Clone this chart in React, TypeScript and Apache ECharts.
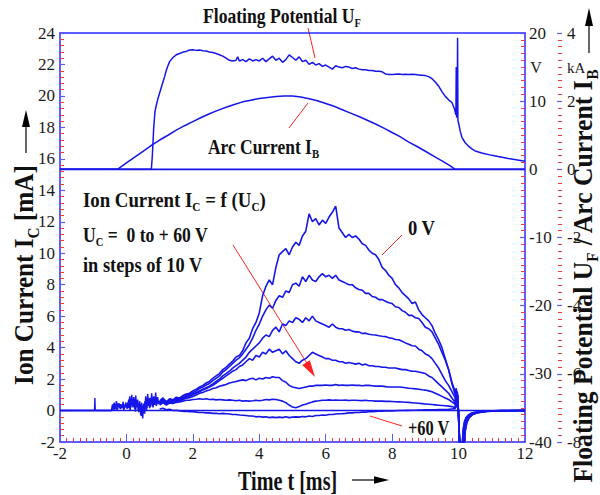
import React, { useEffect, useRef } from 'react';
import * as echarts from 'echarts';

// ---- Ion current I_C [mA], sampled every 0.1 ms from t = 1.0 to 9.9 ms ----
const T0 = 1.0;
const DT = 0.1;

const ion0V = [
  0.62, 0.8, 0.55, 0.75, 0.68, 0.85, 0.8, 0.95, 1.05, 1.1,
  1.25, 1.35, 1.5, 1.6, 1.75, 1.85, 2.05, 2.2, 2.35, 2.6,
  2.75, 2.95, 3.15, 3.4, 3.5, 3.8, 4.3, 4.6, 5.2, 5.6,
  6.2, 7.3, 7.9, 8.3, 8.0, 9.1, 9.9, 10.1, 10.3, 9.9,
  10.4, 10.7, 10.5, 11.1, 11.4, 12.5, 12.0, 12.2, 11.8, 12.1,
  11.9, 12.3, 12.6, 13.0, 11.6, 11.3, 11.0, 11.2, 11.0, 11.1,
  10.9, 10.6, 10.5, 10.2, 10.0, 9.9, 9.6, 9.1, 8.9, 8.6,
  8.4, 8.0, 7.8, 7.5, 7.3, 7.1, 6.8, 6.9, 6.4, 6.1,
  5.9, 5.7, 5.4, 4.9, 4.5, 4.0, 3.3, 2.6, 1.7, 1.0,
];
const ion10V = [
  0.55, 0.7, 0.5, 0.7, 0.62, 0.78, 0.75, 0.88, 0.98, 1.02,
  1.15, 1.25, 1.4, 1.5, 1.62, 1.72, 1.9, 2.05, 2.2, 2.45,
  2.6, 2.8, 3.0, 3.2, 3.35, 3.6, 3.9, 4.2, 4.6, 5.1,
  5.5, 6.0, 6.4, 6.7, 6.5, 7.0, 7.3, 7.2, 7.6, 7.5,
  8.0, 8.1, 7.9, 8.5, 8.2, 8.6, 8.3, 8.2, 8.5, 8.7,
  8.5, 8.6, 8.4, 8.6, 8.3, 8.2, 8.1, 8.0, 8.0, 7.8,
  7.7, 7.65, 7.45, 7.45, 7.25, 7.2, 7.05, 7.05, 6.95, 6.85,
  6.8, 6.6, 6.55, 6.35, 6.25, 6.05, 6.05, 5.9, 5.85, 5.6,
  5.3, 5.2, 5.0, 4.6, 4.2, 3.7, 3.2, 2.6, 1.8, 1.2,
];
const ion20V = [
  0.5, 0.65, 0.45, 0.62, 0.58, 0.7, 0.7, 0.8, 0.9, 0.95,
  1.05, 1.15, 1.25, 1.35, 1.45, 1.55, 1.7, 1.85, 2.0, 2.2,
  2.35, 2.5, 2.7, 2.85, 3.0, 3.2, 3.4, 3.7, 3.9, 4.1,
  4.3, 4.6, 4.8, 4.7, 5.1, 5.3, 5.0, 5.5, 5.4, 5.7,
  5.6, 5.9, 5.8, 5.6, 5.9, 5.7, 6.0, 5.7, 5.6, 5.5,
  5.4, 5.3, 5.5, 5.3, 5.2, 5.2, 5.1, 5.15, 5.05, 5.0,
  5.0, 4.9, 4.92, 4.85, 4.82, 4.8, 4.75, 4.72, 4.7, 4.62,
  4.6, 4.52, 4.5, 4.4, 4.3, 4.22, 4.12, 4.1, 3.9, 3.8,
  3.6, 3.5, 3.3, 3.0, 2.7, 2.3, 1.9, 1.6, 1.2, 0.8,
];
const ion30V = [
  0.45, 0.6, 0.42, 0.58, 0.55, 0.65, 0.65, 0.75, 0.85, 0.9,
  1.0, 1.1, 1.2, 1.3, 1.4, 1.5, 1.6, 1.75, 1.9, 2.05,
  2.2, 2.35, 2.5, 2.6, 2.8, 2.9, 3.1, 3.3, 3.2, 3.5,
  3.4, 3.7, 3.6, 3.9, 3.7, 3.8, 3.9, 3.6, 3.8, 3.5,
  3.3, 3.1, 3.0, 3.2, 3.3, 3.5, 3.7, 3.6, 3.5, 3.4,
  3.3, 3.3, 3.2, 3.2, 3.1, 3.1, 3.0, 3.05, 3.0, 2.95,
  3.0, 2.9, 2.95, 2.85, 2.85, 2.8, 2.8, 2.75, 2.75, 2.7,
  2.7, 2.7, 2.65, 2.6, 2.6, 2.55, 2.5, 2.5, 2.45, 2.4,
  2.35, 2.2, 2.1, 1.9, 1.7, 1.5, 1.3, 1.1, 0.8, 0.5,
];
const ion40V = [
  0.4, 0.55, 0.4, 0.52, 0.5, 0.6, 0.6, 0.7, 0.78, 0.82,
  0.9, 0.98, 1.1, 1.15, 1.25, 1.3, 1.4, 1.45, 1.55, 1.6,
  1.65, 1.75, 1.8, 1.85, 1.9, 1.95, 1.9, 2.0, 2.05, 1.95,
  2.05, 2.0, 2.1, 2.05, 2.15, 2.1, 2.1, 1.9, 1.8, 1.6,
  1.5, 1.45, 1.4, 1.45, 1.5, 1.55, 1.55, 1.6, 1.6, 1.6,
  1.62, 1.6, 1.6, 1.65, 1.6, 1.62, 1.6, 1.6, 1.62, 1.6,
  1.6, 1.58, 1.6, 1.6, 1.58, 1.55, 1.55, 1.55, 1.52, 1.5,
  1.5, 1.5, 1.5, 1.48, 1.45, 1.42, 1.4, 1.38, 1.35, 1.32,
  1.3, 1.25, 1.2, 1.1, 1.0, 0.9, 0.8, 0.7, 0.55, 0.4,
];
const ion50V = [
  0.35, 0.5, 0.35, 0.48, 0.45, 0.52, 0.55, 0.6, 0.65, 0.65,
  0.7, 0.72, 0.75, 0.72, 0.75, 0.7, 0.72, 0.68, 0.7, 0.68,
  0.65, 0.68, 0.65, 0.62, 0.65, 0.6, 0.62, 0.6, 0.62, 0.65,
  0.62, 0.65, 0.7, 0.68, 0.72, 0.7, 0.65, 0.6, 0.5, 0.35,
  0.22, 0.18, 0.25, 0.35, 0.4, 0.48, 0.55, 0.6, 0.62, 0.65,
  0.65, 0.68, 0.65, 0.66, 0.65, 0.65, 0.66, 0.64, 0.65, 0.65,
  0.64, 0.63, 0.65, 0.62, 0.62, 0.6, 0.6, 0.6, 0.58, 0.58,
  0.57, 0.56, 0.55, 0.54, 0.53, 0.52, 0.5, 0.48, 0.46, 0.44,
  0.42, 0.4, 0.38, 0.36, 0.34, 0.32, 0.3, 0.28, 0.25, 0.18,
];
const ion60V = [
  0.1, 0.15, 0.05, 0.08, 0.0, 0.02, -0.02, -0.05, -0.05, -0.08,
  -0.08, -0.1, -0.12, -0.12, -0.15, -0.15, -0.18, -0.18, -0.2, -0.18,
  -0.2, -0.22, -0.25, -0.25, -0.28, -0.3, -0.32, -0.35, -0.35, -0.4,
  -0.38, -0.42, -0.4, -0.45, -0.42, -0.45, -0.42, -0.45, -0.4, -0.45,
  -0.42, -0.4, -0.42, -0.38, -0.4, -0.35, -0.38, -0.32, -0.32, -0.28,
  -0.3, -0.25, -0.25, -0.22, -0.2, -0.2, -0.18, -0.15, -0.15, -0.12,
  -0.12, -0.1, -0.1, -0.08, -0.08, -0.06, -0.05, -0.04, -0.03, -0.02,
  -0.02, -0.01, 0.0, 0.0, 0.01, 0.01, 0.02, 0.02, 0.03, 0.03,
  0.04, 0.04, 0.05, 0.05, 0.06, 0.06, 0.07, 0.08, 0.1, 0.12,
];

// Discharge switch-off transient after t = 9.9 ms: [t, I_C]
const tailA = [
  [9.93, 1.4], [9.95, 0.3], [9.97, 1.0], [9.99, 0.1], [10.02, -1.5], [10.05, -2.6],
  [10.12, -2.6], [10.15, -1.6], [10.19, -1.0], [10.24, -0.6], [10.32, -0.35],
  [10.42, -0.2], [10.58, -0.1], [10.85, -0.04], [11.3, 0], [12, 0],
];
const tailB = [
  [9.94, 0.6], [9.96, 1.2], [9.98, 0.2], [10.0, -0.4], [10.03, -2.0], [10.06, -2.6],
  [10.16, -2.6], [10.2, -1.3], [10.25, -0.75], [10.32, -0.45], [10.42, -0.26],
  [10.55, -0.15], [10.8, -0.06], [11.2, -0.02], [12, 0],
];
const tailC = [
  [9.92, 0.8], [9.94, 0.2], [9.97, 0.6], [10.0, 0.0], [10.04, -2.6], [10.1, -2.6],
  [10.14, -1.2], [10.18, -0.7], [10.23, -0.45], [10.3, -0.28], [10.4, -0.16],
  [10.6, -0.07], [11.0, -0.02], [12, 0],
];

// Ignition noise before t = 1.0 ms: [t, I_C]
const ignitionA = [
  [-2, 0], [-0.96, 0], [-0.95, 0.8], [-0.94, 0.05], [-0.93, 0], [-0.45, 0], [-0.42, 0.4],
  [-0.4, 0.05], [-0.37, 0.5], [-0.34, 0.1], [-0.3, 0.6], [-0.27, 0.2], [-0.24, 0.45],
  [-0.2, 0.15], [-0.17, 0.4], [-0.13, 0.2], [-0.1, 0.55], [-0.07, 0.1], [-0.03, 0.35],
  [0.0, 0.2], [0.03, 0.5], [0.06, 0.15], [0.1, 0.9], [0.13, 0.2], [0.16, 1.0], [0.19, 0.3],
  [0.22, 0.85], [0.25, 0.1], [0.28, 0.95], [0.31, 0.25], [0.34, 0.7], [0.37, -0.1],
  [0.4, 0.6], [0.43, -0.3], [0.46, 0.5], [0.49, -0.5], [0.52, 0.45], [0.55, -0.2],
  [0.58, 0.9], [0.61, 0.15], [0.64, 1.05], [0.67, 0.3], [0.7, 0.8], [0.73, 0.25],
  [0.76, 1.1], [0.79, 0.4], [0.82, 0.9], [0.85, 0.35], [0.88, 1.15], [0.91, 0.45],
  [0.94, 0.85], [0.97, 0.4], [1.0, 0.6],
];
const ignitionB = [
  [-2, 0], [-0.45, 0], [-0.4, 0.35], [-0.36, 0.05], [-0.32, 0.3], [-0.28, 0.0],
  [-0.22, 0.45], [-0.18, 0.1], [-0.12, 0.3], [-0.08, 0.05], [-0.02, 0.5], [0.02, 0.1],
  [0.07, 0.7], [0.11, 0.0], [0.15, 0.6], [0.2, 0.2], [0.24, 0.75], [0.27, -0.05],
  [0.32, 0.55], [0.36, 0.0], [0.41, 0.4], [0.45, -0.35], [0.48, 0.3], [0.51, -0.15],
  [0.56, 0.6], [0.6, 0.0], [0.66, 0.7], [0.7, 0.15], [0.75, 0.6], [0.8, 0.2],
  [0.84, 0.75], [0.9, 0.3], [0.95, 0.6], [1.0, 0.45],
];

// Floating potential U_F [V]: [t, U_F]
const floatingPotential = [
  [-2, 0], [0.75, 0], [0.78, 2.0], [0.82, 6.0], [0.86, 8.5], [0.9, 9.4], [0.95, 10.4],
  [1.0, 11.2], [1.05, 12.0], [1.1, 12.8], [1.15, 13.6], [1.2, 14.5], [1.25, 15.2],
  [1.3, 15.8], [1.4, 16.4], [1.5, 16.8], [1.6, 17.0], [1.7, 17.2], [1.8, 17.3],
  [1.9, 17.5], [2.0, 17.55], [2.1, 17.45], [2.2, 17.5], [2.3, 17.4], [2.4, 17.35],
  [2.5, 17.2], [2.6, 17.15], [2.7, 17.0], [2.8, 16.8], [2.9, 16.6], [3.0, 16.3],
  [3.1, 16.0], [3.2, 15.9], [3.3, 16.0], [3.35, 16.5], [3.4, 15.9], [3.5, 16.1],
  [3.6, 15.8], [3.7, 16.2], [3.8, 15.9], [3.9, 16.1], [4.0, 15.9], [4.1, 16.3],
  [4.2, 15.8], [4.3, 16.2], [4.4, 16.6], [4.5, 16.0], [4.6, 16.3], [4.7, 15.7],
  [4.8, 16.1], [4.9, 16.8], [5.0, 16.4], [5.1, 16.0], [5.2, 16.5], [5.3, 15.8],
  [5.4, 16.0], [5.5, 15.4], [5.6, 15.7], [5.7, 15.3], [5.8, 15.5], [5.9, 15.1],
  [6.0, 15.3], [6.1, 15.0], [6.2, 14.7], [6.3, 15.2], [6.4, 15.0], [6.5, 14.9],
  [6.6, 15.1], [6.7, 15.0], [6.8, 14.8], [6.9, 14.9], [7.0, 14.7], [7.1, 14.6],
  [7.2, 14.6], [7.3, 14.5], [7.4, 14.5], [7.5, 14.4], [7.6, 14.4], [7.7, 14.3],
  [7.8, 14.0], [7.9, 13.9], [8.0, 13.9], [8.1, 13.95], [8.2, 14.0], [8.3, 13.9],
  [8.4, 13.95], [8.5, 13.9], [8.6, 13.95], [8.7, 13.9], [8.8, 13.85], [8.9, 13.8],
  [9.0, 13.75], [9.1, 13.6], [9.2, 13.3], [9.3, 12.8], [9.4, 12.2], [9.5, 11.4],
  [9.6, 10.7], [9.7, 10.2], [9.8, 9.8], [9.88, 8.8], [9.92, 8.0], [9.93, 15.0],
  [9.94, 7.6], [9.96, 7.8], [9.97, 19.3], [9.98, 7.2], [10.0, 6.8], [10.05, 5.6],
  [10.1, 4.7], [10.2, 3.9], [10.3, 3.4], [10.4, 3.0], [10.5, 2.7], [10.7, 2.4],
  [11.0, 2.05], [11.5, 1.6], [12.0, 1.2],
];

// Arc current I_B [kA]: [t, I_B]
const arcCurrent = [
  [-2, 0], [-0.27, 0], [0, 0.19], [0.25, 0.36], [0.5, 0.53], [0.75, 0.7], [1.0, 0.86],
  [1.25, 1.0], [1.5, 1.15], [1.75, 1.28], [2.0, 1.4], [2.25, 1.52], [2.5, 1.63],
  [2.75, 1.73], [3.0, 1.82], [3.25, 1.9], [3.5, 1.98], [3.75, 2.03], [4.0, 2.08],
  [4.25, 2.11], [4.5, 2.14], [4.75, 2.15], [5.0, 2.15], [5.25, 2.12], [5.5, 2.07],
  [5.75, 2.01], [6.0, 1.93], [6.25, 1.85], [6.5, 1.75], [6.75, 1.65], [7.0, 1.55],
  [7.25, 1.44], [7.5, 1.33], [7.75, 1.21], [8.0, 1.08], [8.25, 0.95], [8.5, 0.8],
  [8.75, 0.67], [9.0, 0.53], [9.25, 0.39], [9.5, 0.25], [9.75, 0.1], [9.9, 0.0], [12, 0],
];

const ionCurves = [ion0V, ion10V, ion20V, ion30V, ion40V, ion50V, ion60V];
const ionTails = [tailA, tailB, tailC, tailA, tailB, tailC, tailA];
const ionNames = ['0 V', '10 V', '20 V', '30 V', '40 V', '50 V', '60 V'];

const BLUE = '#1616ea';
const AXIS_BLUE = '#2a2aff';
const TICK_BLUE = '#5a5aff';
const TICK_RED = '#f23a3a';
const LEADER_RED = '#ff2222';
const SERIF = '"Liberation Serif", "Times New Roman", serif';
const INK = '#111';

const tickLabel = { fontFamily: SERIF, fontSize: 17, color: '#1a1a1a' };

function lineSeries(name: string, data: number[][], yAxisIndex = 0, width = 1.5) {
  return {
    name,
    type: 'line',
    data,
    yAxisIndex,
    symbol: 'none',
    showSymbol: false,
    silent: true,
    clip: true,
    lineStyle: { color: BLUE, width },
  };
}

function mainStyle(size: number) {
  return {
    fontFamily: SERIF,
    fontWeight: 'bold',
    fontSize: size,
    lineHeight: Math.round(size * 1.3),
    verticalAlign: 'middle',
    fill: INK,
  };
}
function subStyle(size: number) {
  return {
    fontFamily: SERIF,
    fontWeight: 'bold',
    fontSize: size,
    lineHeight: size,
    verticalAlign: 'bottom',
    fill: INK,
  };
}

function caption(
  text: string,
  x: number,
  y: number,
  size: number,
  subSize: number,
  scaleX: number,
  rotation = 0,
  align = 'left',
) {
  return {
    type: 'text',
    x,
    y,
    scaleX,
    rotation,
    silent: true,
    style: {
      text,
      align,
      verticalAlign: 'middle',
      rich: { m: mainStyle(size), s: subStyle(subSize) },
    },
  };
}

function arrowHead(tip: number[], dir: number[], len: number, half: number, color: string) {
  const n = Math.hypot(dir[0], dir[1]);
  const ux = dir[0] / n;
  const uy = dir[1] / n;
  const bx = tip[0] - ux * len;
  const by = tip[1] - uy * len;
  return {
    type: 'polygon',
    silent: true,
    shape: {
      points: [
        [tip[0], tip[1]],
        [bx - uy * half, by + ux * half],
        [bx + uy * half, by - ux * half],
      ],
    },
    style: { fill: color },
  };
}

function segment(x1: number, y1: number, x2: number, y2: number, color: string, w = 1) {
  return {
    type: 'line',
    silent: true,
    shape: { x1, y1, x2, y2 },
    style: { stroke: color, lineWidth: w },
  };
}

export default function App() {
  const ref = useRef<HTMLDivElement>(null);

  useEffect(() => {
    if (!ref.current) return;
    const chart = echarts.init(ref.current, null, { renderer: 'svg' });

    const series: any[] = [];
    series.push(lineSeries('zero', [[-2, 0], [12, 0]], 0, 1.5));
    series.push(lineSeries('ignition A', ignitionA, 0, 1.4));
    series.push(lineSeries('ignition B', ignitionB, 0, 1.4));
    ionCurves.forEach((vals, i) => {
      const data = vals.map((v, k) => [+(T0 + k * DT).toFixed(2), v]);
      series.push(lineSeries(ionNames[i], data.concat(ionTails[i]), 0, 1.6));
    });
    series.push(lineSeries('U_F baseline', [[-2, 0], [12, 0]], 1, 1.6));
    series.push(lineSeries('Floating Potential', floatingPotential, 1, 1.5));
    series.push(lineSeries('Arc Current', arcCurrent, 2, 1.5));

    const minorRed = { show: true, length: 4, lineStyle: { color: TICK_RED, width: 1 } };

    chart.setOption({
      animation: false,
      backgroundColor: '#ffffff',
      grid: { left: 60, right: 75, top: 33, bottom: 53 },
      xAxis: [
        {
          type: 'value',
          min: -2,
          max: 12,
          interval: 2,
          position: 'bottom',
          axisLine: { show: true, onZero: false, lineStyle: { color: AXIS_BLUE, width: 1.5 } },
          axisTick: { show: true, inside: true, length: 8, lineStyle: { color: TICK_BLUE, width: 1 } },
          minorTick: { ...minorRed, splitNumber: 10 },
          axisLabel: { ...tickLabel, margin: 3, showMinLabel: true, showMaxLabel: true },
          splitLine: { show: false },
        },
        {
          type: 'value',
          min: -2,
          max: 12,
          position: 'top',
          axisLine: { show: true, onZero: false, lineStyle: { color: AXIS_BLUE, width: 1.5 } },
          axisTick: { show: false },
          axisLabel: { show: false },
          splitLine: { show: false },
        },
      ],
      yAxis: [
        {
          type: 'value',
          min: -2,
          max: 24,
          interval: 2,
          position: 'left',
          axisLine: { show: true, onZero: false, lineStyle: { color: AXIS_BLUE, width: 1.5 } },
          axisTick: { show: true, inside: true, length: 5, lineStyle: { color: TICK_BLUE, width: 1.2 } },
          minorTick: { ...minorRed, splitNumber: 5 },
          axisLabel: { ...tickLabel, margin: 5, showMinLabel: true, showMaxLabel: true },
          splitLine: { show: false },
        },
        {
          type: 'value',
          min: -40,
          max: 20,
          interval: 10,
          position: 'right',
          axisLine: { show: true, onZero: false, lineStyle: { color: AXIS_BLUE, width: 1.5 } },
          axisTick: { show: true, inside: true, length: 5, lineStyle: { color: TICK_BLUE, width: 1.2 } },
          minorTick: { ...minorRed, splitNumber: 10 },
          axisLabel: { ...tickLabel, margin: 4, showMinLabel: true, showMaxLabel: true },
          splitLine: { show: false },
        },
        {
          type: 'value',
          min: -8,
          max: 4,
          interval: 2,
          position: 'right',
          offset: 37,
          axisLine: { show: false, onZero: false },
          axisTick: { show: true, inside: true, length: 5, lineStyle: { color: TICK_BLUE, width: 1.2 } },
          minorTick: { ...minorRed, splitNumber: 10 },
          axisLabel: { ...tickLabel, margin: 5, showMinLabel: true, showMaxLabel: true },
          splitLine: { show: false },
        },
      ],
      series,
      graphic: [
        // panel captions
        caption('{m|Floating Potential U}{s|F}', 203, 15.5, 22, 13, 0.8),
        caption('{m|Arc Current I}{s|B}', 208, 147, 21, 13, 0.83),
        caption('{m|Ion Current I}{s|C}{m| = f (U}{s|C}{m|)}', 83, 200, 20, 12, 0.94),
        caption('{m|U}{s|C}{m| =  0 to + 60 V}', 83, 235, 20, 12, 0.88),
        caption('{m|in steps of 10 V}', 83, 265, 20, 12, 0.92),
        caption('{m|0 V}', 408, 228, 20, 12, 0.93),
        caption('{m|+60 V}', 408, 428.5, 20, 12, 0.82),
        // axis titles
        caption('{m|Time t [ms]}', 238, 480, 28, 16, 0.72),
        caption('{m|Ion Current I}{s|C}{m| [mA]}', 24, 275, 28, 17, 0.9, Math.PI / 2, 'center'),
        caption(
          '{m|Floating Potential U}{s|F}{m| / Arc Current I}{s|B}',
          583,
          276,
          27,
          16,
          0.95,
          Math.PI / 2,
          'center',
        ),
        // unit marks
        {
          type: 'text',
          x: 536,
          y: 67,
          silent: true,
          style: { text: 'V', fontFamily: SERIF, fontSize: 16, fill: '#1a1a1a', align: 'center', verticalAlign: 'middle' },
        },
        {
          type: 'text',
          x: 567,
          y: 67.5,
          silent: true,
          style: { text: 'kA', fontFamily: SERIF, fontSize: 15, fill: '#1a1a1a', align: 'left', verticalAlign: 'middle' },
        },
        // arrows next to axis titles
        segment(26, 153, 26, 122, '#000', 1.2),
        arrowHead([26, 110], [0, -1], 17, 4, '#000'),
        segment(589, 53, 589, 22, '#000', 1.2),
        arrowHead([589, 8], [0, -1], 18, 4, '#000'),
        segment(352, 480, 376, 480, '#000', 1.2),
        arrowHead([389, 480], [1, 0], 15, 3.8, '#000'),
        // red leader lines
        segment(308, 28, 315, 58, LEADER_RED),
        segment(289, 128, 308, 103, LEADER_RED),
        segment(402, 235, 382, 255, LEADER_RED),
        segment(370, 416, 402, 426, LEADER_RED),
        segment(233, 245, 308, 365, LEADER_RED),
        arrowHead([315, 377], [82, 132], 17, 4.5, LEADER_RED),
      ],
    });

    return () => chart.dispose();
  }, []);

  return (
    <div
      ref={ref}
      style={{ position: 'fixed', left: 0, top: 0, width: 600, height: 495, background: '#fff' }}
    />
  );
}
